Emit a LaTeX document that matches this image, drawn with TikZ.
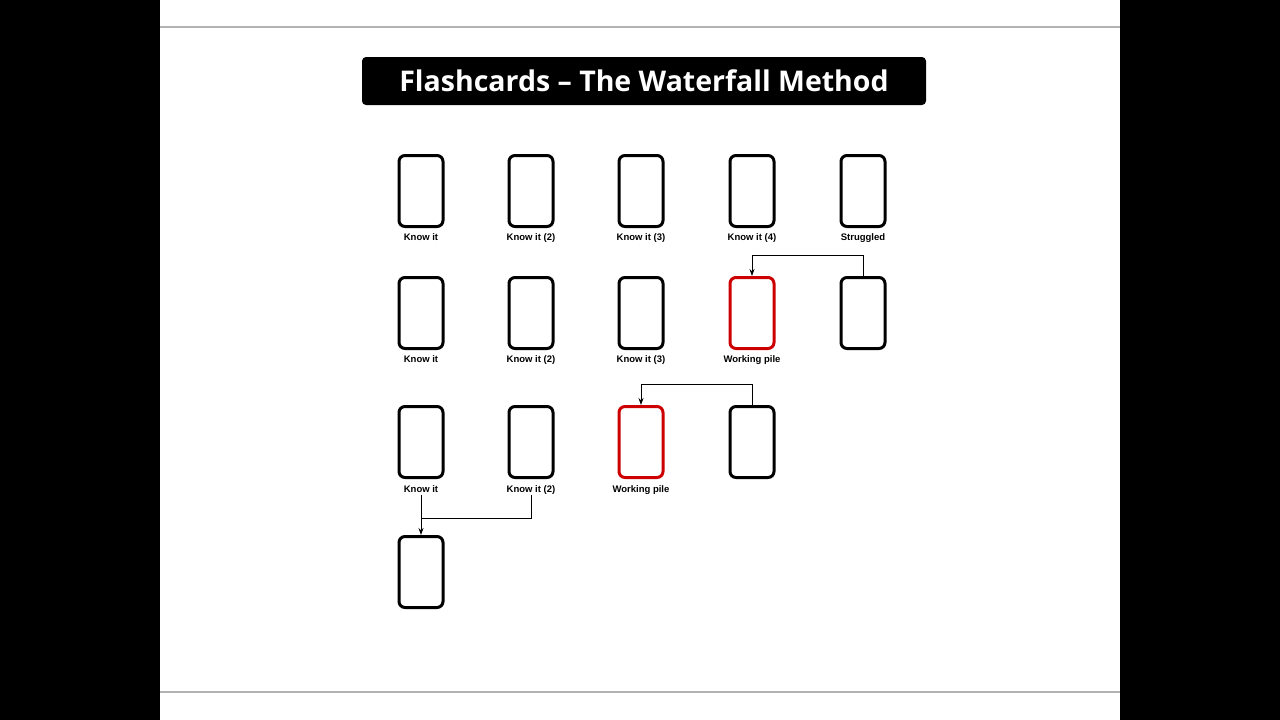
\documentclass[tikz,border=0pt]{standalone}
\usepackage{fontspec}
\setmainfont{Open Sans}
\newfontfamily\lblfont{Liberation Sans}
\usetikzlibrary{arrows.meta}
\tikzset{
card/.style={draw=black,line width=3pt,rounded corners=6pt,minimum width=44pt,minimum height=71pt,inner sep=0pt},
redcard/.style={card,draw=red!80!black},
lbl/.style={font=\lblfont\fontsize{9.5}{10}\selectfont\bfseries,inner sep=0pt,text height=7pt,text depth=2pt},
conn/.style={line width=1pt},
arr/.style={conn,-{Stealth[length=7pt,width=5pt]}}
}
\begin{document}
\begin{tikzpicture}[x=1pt,y=-1pt]
\useasboundingbox (0,0) rectangle (1280,720);
\fill[black] (0,0) rectangle (160,720);
\fill[black] (1120,0) rectangle (1280,720);
\draw[gray!60,line width=2pt] (160,27) -- (1120,27);
\draw[gray!60,line width=2pt] (160,692) -- (1120,692);
\node[fill=black,rounded corners=4pt,minimum width=564pt,minimum height=48pt,text=white,font=\fontsize{28.5}{32}\selectfont\bfseries] (title) at (644,81) {Flashcards – The Waterfall Method};
% row 1
\node[card] (a1) at (421,191) {};
\node[card] (a2) at (531,191) {};
\node[card] (a3) at (641,191) {};
\node[card] (a4) at (752,191) {};
\node[card] (a5) at (863,191) {};
\node[lbl] (la1) at (421,238) {Know it};
\node[lbl] (la2) at (531,238) {Know it (2)};
\node[lbl] (la3) at (641,238) {Know it (3)};
\node[lbl] (la4) at (752,238) {Know it (4)};
\node[lbl] (la5) at (863,238) {Struggled};
% row 2
\node[card] (b1) at (421,313) {};
\node[card] (b2) at (531,313) {};
\node[card] (b3) at (641,313) {};
\node[redcard] (b4) at (752,313) {};
\node[card] (b5) at (863,313) {};
\node[lbl] (lb1) at (421,360) {Know it};
\node[lbl] (lb2) at (531,360) {Know it (2)};
\node[lbl] (lb3) at (641,360) {Know it (3)};
\node[lbl] (lb4) at (752,360) {Working pile};
% row 3
\node[card] (c1) at (421,442) {};
\node[card] (c2) at (531,442) {};
\node[redcard] (c3) at (641,442) {};
\node[card] (c4) at (752,442) {};
\node[lbl] (lc1) at (421,490) {Know it};
\node[lbl] (lc2) at (531,490) {Know it (2)};
\node[lbl] (lc3) at (641,490) {Working pile};
% row 4
\node[card] (d1) at (421,572) {};
% connectors
\draw[arr] (b5.north) -- ++(0,-21) -| (b4.north);
\draw[arr] (c4.north) -- ++(0,-21) -| (c3.north);
\draw[arr] (lc1.south) -- (d1.north);
\draw[conn] (lc2.south) |- (421,518);
\end{tikzpicture}
\end{document}
